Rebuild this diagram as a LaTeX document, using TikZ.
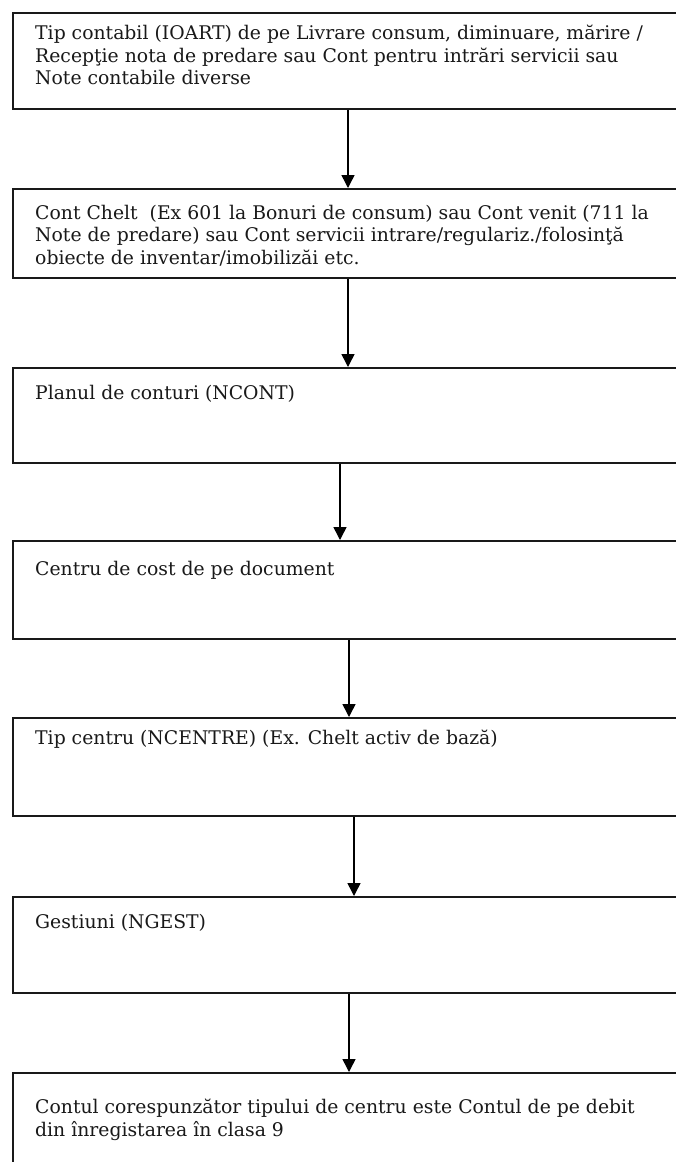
\documentclass[tikz,border=0pt]{standalone}
\usepackage{fontspec}
\setmainfont{DejaVu Serif}
\usetikzlibrary{arrows.meta}
\begin{document}
\begin{tikzpicture}[x=1pt,y=-1pt,
  box/.style={draw=black!90, line width=1.9pt, anchor=north west, inner sep=0pt, minimum width=690pt},
  txt/.style={anchor=north west, inner sep=0pt, align=left, text=black!90, font=\fontsize{18.8}{22.5}\selectfont},
  arr/.style={-{Triangle[width=13pt,length=13pt]}, line width=1.5pt, draw=black}]
\useasboundingbox (0,0) rectangle (676,1162);
\clip (0,0) rectangle (676,1162);
\fill[white] (0,0) rectangle (676,1162);
% boxes
\node[box, minimum height=96pt] (b1) at (12,12) {};
\node[box, minimum height=89pt] (b2) at (12,188) {};
\node[box, minimum height=95pt] (b3) at (12,367) {};
\node[box, minimum height=98pt] (b4) at (12,540) {};
\node[box, minimum height=98pt] (b5) at (12,717) {};
\node[box, minimum height=96pt] (b6) at (12,896) {};
\node[box, minimum height=110pt] (b7) at (12,1072) {};
% texts
\node[txt] (t1) at ([xshift=23pt,yshift=-13pt]b1.north west) {Tip contabil (IOART) de pe Livrare consum, diminuare, mărire /\\Recepţie nota de predare sau Cont pentru intrări servicii sau\\Note contabile diverse};
\node[txt] (t2) at ([xshift=23pt,yshift=-17pt]b2.north west) {Cont Chelt\ \ (Ex 601 la Bonuri de consum) sau Cont venit (711 la\\Note de predare) sau Cont servicii intrare/regulariz./folosinţă\\obiecte de inventar/imobilizăi etc.};
\node[txt] (t3) at ([xshift=23pt,yshift=-18pt]b3.north west) {Planul de conturi (NCONT)};
\node[txt] (t4) at ([xshift=23pt,yshift=-21pt]b4.north west) {Centru de cost de pe document};
\node[txt] (t5) at ([xshift=23pt,yshift=-13pt]b5.north west) {Tip centru (NCENTRE) (Ex. Chelt activ de bază)};
\node[txt] (t6) at ([xshift=23pt,yshift=-18pt]b6.north west) {Gestiuni (NGEST)};
\node[txt] (t7) at ([xshift=23pt,yshift=-27pt]b7.north west) {Contul corespunzător tipului de centru este Contul de pe debit\\din înregistarea în clasa 9};
% arrow columns
\coordinate (c1) at (348,0);
\coordinate (c2) at (348,0);
\coordinate (c3) at (340,0);
\coordinate (c4) at (349,0);
\coordinate (c5) at (354,0);
\coordinate (c6) at (349,0);
\draw[arr] (b1.south -| c1) -- (b2.north -| c1);
\draw[arr] (b2.south -| c2) -- (b3.north -| c2);
\draw[arr] (b3.south -| c3) -- (b4.north -| c3);
\draw[arr] (b4.south -| c4) -- (b5.north -| c4);
\draw[arr] (b5.south -| c5) -- (b6.north -| c5);
\draw[arr] (b6.south -| c6) -- (b7.north -| c6);
\end{tikzpicture}
\end{document}
